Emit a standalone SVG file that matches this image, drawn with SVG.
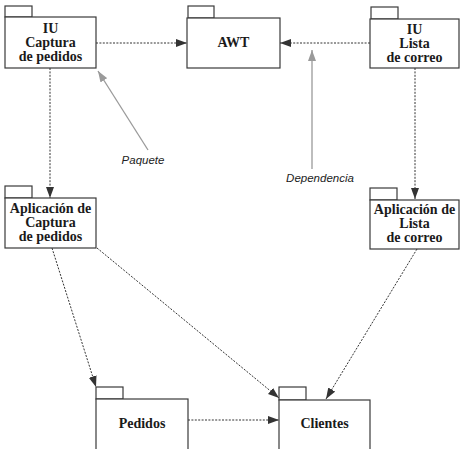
<svg xmlns="http://www.w3.org/2000/svg" width="460" height="449" viewBox="0 0 460 449">
<defs>
<style>
.box{fill:#fff;stroke:#3a3a3a;stroke-width:1.2}
.lbl{font-family:"Liberation Serif","DejaVu Serif",serif;font-weight:bold;font-size:14px;fill:#1a1a1a;text-anchor:middle}
.dep{fill:none;stroke:#333;stroke-width:1;stroke-dasharray:2 1.4}
.note{fill:none;stroke:#9a9a9a;stroke-width:1.3}
.ntxt{font-family:"Liberation Sans",Arial,sans-serif;font-style:italic;font-size:11.5px;fill:#222}
</style>
<marker id="ah" markerUnits="userSpaceOnUse" markerWidth="12" markerHeight="8" refX="11" refY="4" orient="auto">
<path d="M0,0 L11,4 L0,8 z" fill="#333"/>
</marker>
<marker id="gh" markerUnits="userSpaceOnUse" markerWidth="12" markerHeight="8" refX="11" refY="4" orient="auto">
<path d="M0,0 L11,4 L0,8 z" fill="#9a9a9a"/>
</marker>
</defs>
<rect width="460" height="449" fill="#fff"/>

<g id="connectors">
<path class="dep" d="M96,43 L187,43" marker-end="url(#ah)"/>
<path class="dep" d="M370,43 L280,43" marker-end="url(#ah)"/>
<path class="dep" d="M50,68 L50,198" marker-end="url(#ah)"/>
<path class="dep" d="M415,68 L415,199" marker-end="url(#ah)"/>
<path class="dep" d="M52,248 L96,387" marker-end="url(#ah)"/>
<path class="dep" d="M97,248 L279,398" marker-end="url(#ah)"/>
<path class="dep" d="M417,249 L326,399" marker-end="url(#ah)"/>
<path class="dep" d="M188,420 L279,420" marker-end="url(#ah)"/>
<path class="note" d="M148,150 L98,71" marker-end="url(#gh)"/>
<path class="note" d="M312,169 L312,50" marker-end="url(#gh)"/>
<text class="ntxt" x="143" y="164" text-anchor="middle">Paquete</text>
<text class="ntxt" x="320" y="182" text-anchor="middle">Dependencia</text>
</g>

<g id="iu-captura">
<rect class="box" x="5" y="6" width="27" height="11"/>
<rect class="box" x="5" y="17" width="91" height="51"/>
<text class="lbl" x="50.5" y="33">IU</text>
<text class="lbl" x="50.5" y="47">Captura</text>
<text class="lbl" x="50.5" y="61">de pedidos</text>
</g>

<g id="awt">
<rect class="box" x="188" y="6" width="26" height="12"/>
<rect class="box" x="187" y="18" width="93" height="50"/>
<text class="lbl" x="233.5" y="47">AWT</text>
</g>

<g id="iu-lista">
<rect class="box" x="371" y="7" width="27" height="12"/>
<rect class="box" x="370" y="19" width="89" height="49"/>
<text class="lbl" x="414.5" y="34">IU</text>
<text class="lbl" x="414.5" y="48">Lista</text>
<text class="lbl" x="414.5" y="62">de correo</text>
</g>

<g id="app-captura">
<rect class="box" x="5" y="186" width="27" height="12"/>
<rect class="box" x="5" y="198" width="91" height="50"/>
<text class="lbl" x="50.5" y="213">Aplicación de</text>
<text class="lbl" x="50.5" y="227">Captura</text>
<text class="lbl" x="50.5" y="241">de pedidos</text>
</g>

<g id="app-lista">
<rect class="box" x="370" y="188" width="27" height="12"/>
<rect class="box" x="370" y="200" width="89" height="49"/>
<text class="lbl" x="414.5" y="214">Aplicación de</text>
<text class="lbl" x="414.5" y="228">Lista</text>
<text class="lbl" x="414.5" y="242">de correo</text>
</g>

<g id="pedidos">
<rect class="box" x="96" y="387" width="27" height="12"/>
<rect class="box" x="96" y="399" width="92" height="52"/>
<text class="lbl" x="142" y="428">Pedidos</text>
</g>

<g id="clientes">
<rect class="box" x="279" y="387" width="27" height="13"/>
<rect class="box" x="279" y="400" width="91" height="51"/>
<text class="lbl" x="324.5" y="428">Clientes</text>
</g>
</svg>
